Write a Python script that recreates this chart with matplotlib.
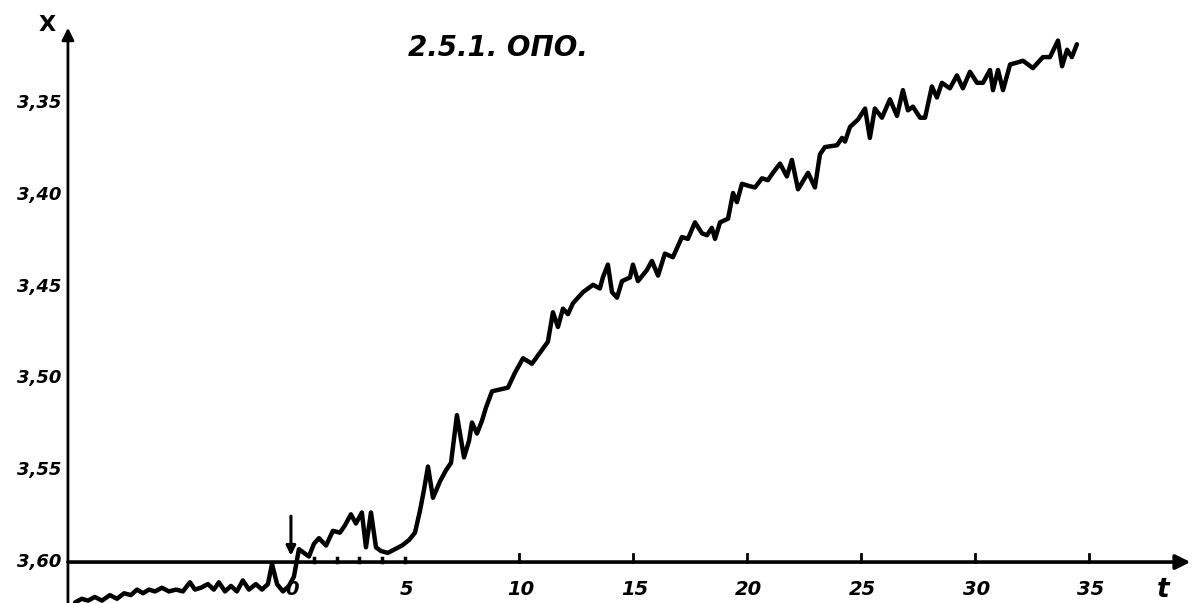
import matplotlib
matplotlib.use("Agg")
import matplotlib.pyplot as plt

t = [-9.47, -9.17, -8.90, -8.60, -8.29, -7.94, -7.63, -7.32, -7.02, -6.75,
     -6.49, -6.23, -5.96, -5.66, -5.35, -5.04, -4.74, -4.43, -4.21, -3.95,
     -3.64, -3.38, -3.16, -2.89, -2.63, -2.37, -2.11, -1.84, -1.54, -1.27,
     -1.01, -0.83, -0.61, -0.35, -0.09, 0.13, 0.35, 0.57, 0.79, 1.01,
     1.23, 1.54, 1.84, 2.15, 2.37, 2.63, 2.85, 3.11, 3.29, 3.51,
     3.73, 3.95, 4.25, 4.56, 4.87, 5.18, 5.44, 5.66, 5.83, 6.01,
     6.23, 6.54, 6.80, 7.02, 7.28, 7.59, 7.81, 7.94, 8.16, 8.38,
     8.55, 8.82, 9.17, 9.52, 9.82, 10.18, 10.57, 10.92, 11.27, 11.49,
     11.71, 11.93, 12.15, 12.37, 12.81, 13.25, 13.55, 13.68, 13.90, 14.08,
     14.30, 14.52, 14.87, 15.00, 15.22, 15.61, 15.83, 16.10, 16.40, 16.75,
     17.15, 17.41, 17.72, 18.03, 18.25, 18.46, 18.60, 18.82, 19.17, 19.39,
     19.56, 19.78, 20.04, 20.35, 20.66, 20.92, 21.14, 21.45, 21.75, 21.97,
     22.24, 22.68, 22.98, 23.20, 23.42, 23.95, 24.17, 24.30, 24.52, 24.87,
     25.18, 25.39, 25.61, 25.92, 26.27, 26.58, 26.84, 27.06, 27.28, 27.59,
     27.81, 28.11, 28.33, 28.55, 28.90, 29.21, 29.47, 29.78, 30.09, 30.35,
     30.66, 30.79, 31.01, 31.23, 31.54, 31.84, 32.11, 32.54, 32.98, 33.29,
     33.64, 33.82, 34.04, 34.25, 34.47]
x_val = [3.622, 3.620, 3.621, 3.619, 3.621, 3.618, 3.620, 3.617, 3.618, 3.615,
         3.617, 3.615, 3.616, 3.614, 3.616, 3.615, 3.616, 3.611, 3.615, 3.614,
         3.612, 3.615, 3.611, 3.616, 3.613, 3.616, 3.610, 3.615, 3.612, 3.615,
         3.612, 3.601, 3.612, 3.616, 3.613, 3.608, 3.593, 3.595, 3.597, 3.590,
         3.587, 3.591, 3.583, 3.584, 3.580, 3.574, 3.579, 3.573, 3.592, 3.573,
         3.592, 3.594, 3.595, 3.593, 3.591, 3.588, 3.584, 3.572, 3.561, 3.548,
         3.565, 3.556, 3.550, 3.546, 3.520, 3.543, 3.534, 3.524, 3.530, 3.523,
         3.516, 3.507, 3.506, 3.505, 3.497, 3.489, 3.492, 3.486, 3.480, 3.464,
         3.472, 3.462, 3.465, 3.459, 3.453, 3.449, 3.451, 3.445, 3.438, 3.453,
         3.456, 3.447, 3.445, 3.438, 3.447, 3.441, 3.436, 3.444, 3.432, 3.434,
         3.423, 3.424, 3.415, 3.421, 3.422, 3.418, 3.424, 3.415, 3.413, 3.399,
         3.404, 3.394, 3.395, 3.396, 3.391, 3.392, 3.388, 3.383, 3.390, 3.381,
         3.397, 3.388, 3.396, 3.378, 3.374, 3.373, 3.369, 3.371, 3.363, 3.359,
         3.353, 3.369, 3.353, 3.358, 3.348, 3.357, 3.343, 3.354, 3.352, 3.358,
         3.358, 3.341, 3.347, 3.339, 3.342, 3.335, 3.342, 3.333, 3.339, 3.339,
         3.332, 3.343, 3.332, 3.343, 3.329, 3.328, 3.327, 3.331, 3.325, 3.325,
         3.316, 3.330, 3.321, 3.325, 3.318]

x_ticks = [0, 5, 10, 15, 20, 25, 30, 35]
x_tick_labels = ["0", "5", "10", "15", "20", "25", "30", "35"]
big_ticks = [10, 15, 20, 25, 30, 35]
small_ticks = [1, 2, 3, 4, 5]
y_ticks = [3.35, 3.40, 3.45, 3.50, 3.55, 3.60]
y_tick_labels = ["3,35", "3,40", "3,45", "3,50", "3,55", "3,60"]

t_axis = -9.78      # where the X axis stands
x_base = 3.60       # where the t axis stands
title = "2.5.1. ОПО."

fig = plt.figure(figsize=(11.95, 6.03), dpi=100)
ax = fig.add_axes([0, 0, 1, 1])
ax.set_xlim(-12.76, 39.65)
ax.set_ylim(3.6223, 3.2939)
ax.axis("off")

font = dict(family="DejaVu Sans", fontweight="bold", fontstyle="italic", color="black")

# axes with arrow heads
ax.annotate("", xy=(39.45, x_base), xytext=(t_axis, x_base),
            arrowprops=dict(arrowstyle="-|>", lw=2.6, color="black",
                            mutation_scale=22, shrinkA=0, shrinkB=0))
ax.annotate("", xy=(t_axis, 3.309), xytext=(t_axis, 3.6223),
            arrowprops=dict(arrowstyle="-|>", lw=2.0, color="black",
                            mutation_scale=18, shrinkA=0, shrinkB=0))

# tick marks on the t axis
for tk in big_ticks:
    ax.plot([tk, tk], [x_base, x_base - 0.0045], color="black", lw=2.0)
for tk in small_ticks:
    ax.plot([tk, tk], [x_base, x_base - 0.0022], color="black", lw=2.5)

for tk, lab in zip(x_ticks, x_tick_labels):
    ax.annotate(lab, (tk, x_base), xytext=(1, -20), textcoords="offset points",
                ha="center", va="center", fontsize=14, **font)
for v, lab in zip(y_ticks, y_tick_labels):
    ax.annotate(lab, (t_axis, v), xytext=(-5, 0), textcoords="offset points",
                ha="right", va="center", fontsize=13, **font)

ax.text(38.25, 3.6153, "t", ha="center", va="center", fontsize=19, **font)
ax.text(-10.7, 3.3075, "X", ha="center", va="center", fontsize=16,
        family="DejaVu Sans", fontweight="bold", color="black")
ax.text(9.1, 3.320, title, ha="center", va="center", fontsize=20, **font)

# marker arrow at t = 0
ax.annotate("", xy=(0, 3.5965), xytext=(0, 3.5750),
            arrowprops=dict(arrowstyle="-|>", lw=2.2, color="black",
                            mutation_scale=14, shrinkA=0, shrinkB=0))

ax.plot(t, x_val, color="black", lw=3.2, solid_joinstyle="round", solid_capstyle="round")

fig.savefig("out.png", dpi=100)
plt.close(fig)
